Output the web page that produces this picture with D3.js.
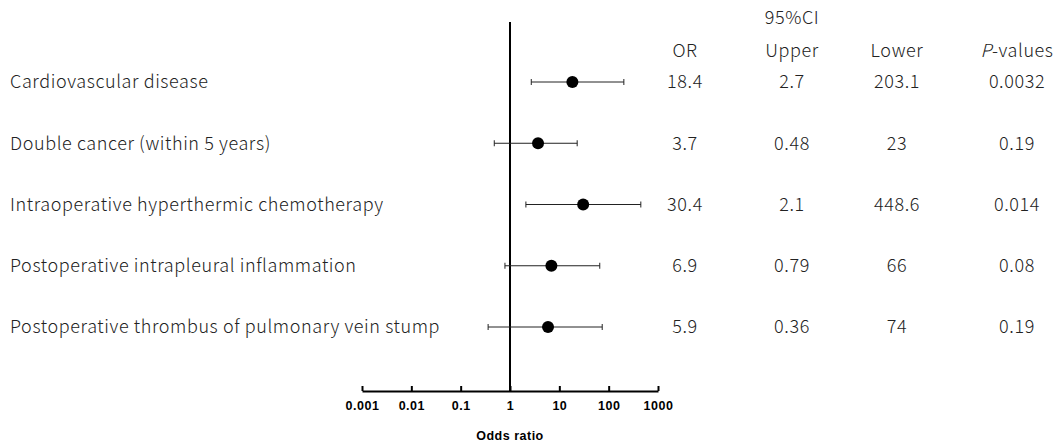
<!DOCTYPE html>
<html>
<head>
<meta charset="utf-8">
<style>
  body { margin: 0; background: #fff; }
  .lbl { font-family: "Noto Sans CJK JP", "Noto Sans", sans-serif; font-size: 18px; font-weight: 300; letter-spacing: 0.6px; fill: #222; }
  .tick text { font-family: "Liberation Sans", Arial, sans-serif; font-weight: bold; font-size: 12.5px; letter-spacing: 0.5px; }
</style>
</head>
<body>
<div id="chart"></div>
<script src="https://d3js.org/d3.v7.min.js"></script>
<script>
const factors = [
  'Cardiovascular disease',
  'Double cancer (within 5 years)',
  'Intraoperative hyperthermic chemotherapy',
  'Postoperative intrapleural inflammation',
  'Postoperative thrombus of pulmonary vein stump'
];
const orValues = [18.4, 3.7, 30.4, 6.9, 5.9];
const ciUpper = [2.7, 0.48, 2.1, 0.79, 0.36];
const ciLower = [203.1, 23, 448.6, 66, 74];
const pValues = ['0.0032', '0.19', '0.014', '0.08', '0.19'];
const orText = ['18.4', '3.7', '30.4', '6.9', '5.9'];
const upperText = ['2.7', '0.48', '2.1', '0.79', '0.36'];
const lowerText = ['203.1', '23', '448.6', '66', '74'];
const tickValues = [0.001, 0.01, 0.1, 1, 10, 100, 1000];
const tickLabels = ['0.001', '0.01', '0.1', '1', '10', '100', '1000'];

const width = 1057, height = 442;
const svg = d3.select('#chart').append('svg')
  .attr('width', width).attr('height', height);

// log x scale for odds ratio
const x = d3.scaleLog().domain([0.001, 1000]).range([362, 658]);
const y = d3.scalePoint().domain(factors).range([82, 327]);
const axisY = 391;

// x axis
const xAxis = d3.axisBottom(x)
  .tickValues(tickValues)
  .tickFormat((d, i) => tickLabels[i])
  .tickSize(5)
  .tickSizeOuter(0);
const gx = svg.append('g')
  .attr('transform', `translate(0, ${axisY})`)
  .call(xAxis);
gx.select('.domain').attr('stroke', '#000').attr('stroke-width', 2);
gx.selectAll('.tick line').attr('stroke', '#000').attr('stroke-width', 2)
  .attr('y1', 0).attr('y2', -5);
gx.selectAll('.tick text').attr('y', 10).attr('dy', '0.71em').attr('fill', '#000');

svg.append('text')
  .attr('x', x(1)).attr('y', 440)
  .attr('text-anchor', 'middle')
  .style('font-family', '"Liberation Sans", Arial, sans-serif')
  .style('font-weight', 'bold').style('font-size', '12.5px')
  .style('letter-spacing', '0.5px')
  .text('Odds ratio');

// reference line at OR = 1
svg.append('line')
  .attr('x1', x(1)).attr('x2', x(1))
  .attr('y1', 22).attr('y2', axisY)
  .attr('stroke', '#000').attr('stroke-width', 2);

// rows
const rows = svg.selectAll('.row').data(factors).enter().append('g').attr('class', 'row');

rows.append('line')
  .attr('x1', (d, i) => x(ciUpper[i])).attr('x2', (d, i) => x(ciLower[i]))
  .attr('y1', d => y(d)).attr('y2', d => y(d))
  .attr('stroke', '#222').attr('stroke-width', 1);

[ciUpper, ciLower].forEach(arr => {
  rows.append('line')
    .attr('x1', (d, i) => x(arr[i])).attr('x2', (d, i) => x(arr[i]))
    .attr('y1', d => y(d) - 3).attr('y2', d => y(d) + 3)
    .attr('stroke', '#222').attr('stroke-width', 1);
});

rows.append('circle')
  .attr('cx', (d, i) => x(orValues[i])).attr('cy', d => y(d))
  .attr('r', 6).attr('fill', '#000');

rows.append('text')
  .attr('class', 'lbl')
  .attr('x', 10).attr('y', d => y(d)).attr('dy', '0.35em')
  .text(d => d);

// table columns
const cols = [
  { x: 685, head: 'OR', vals: orText },
  { x: 792, head: 'Upper', vals: upperText },
  { x: 897, head: 'Lower', vals: lowerText },
  { x: 1017, head: 'P-values', vals: pValues }
];

svg.append('text').attr('class', 'lbl')
  .attr('x', 792).attr('y', 18).attr('dy', '0.35em')
  .attr('text-anchor', 'middle').text('95%CI');

cols.forEach(c => {
  const h = svg.append('text').attr('class', 'lbl')
    .attr('x', c.x).attr('y', 51).attr('dy', '0.35em')
    .attr('text-anchor', 'middle');
  if (c.head === 'P-values') {
    h.append('tspan').style('font-style', 'italic').text('P');
    h.append('tspan').text('-values');
  } else {
    h.text(c.head);
  }
  svg.selectAll(null).data(factors).enter().append('text')
    .attr('class', 'lbl')
    .attr('x', c.x).attr('y', d => y(d)).attr('dy', '0.35em')
    .attr('text-anchor', 'middle')
    .text((d, i) => c.vals[i]);
});
</script>
</body>
</html>
